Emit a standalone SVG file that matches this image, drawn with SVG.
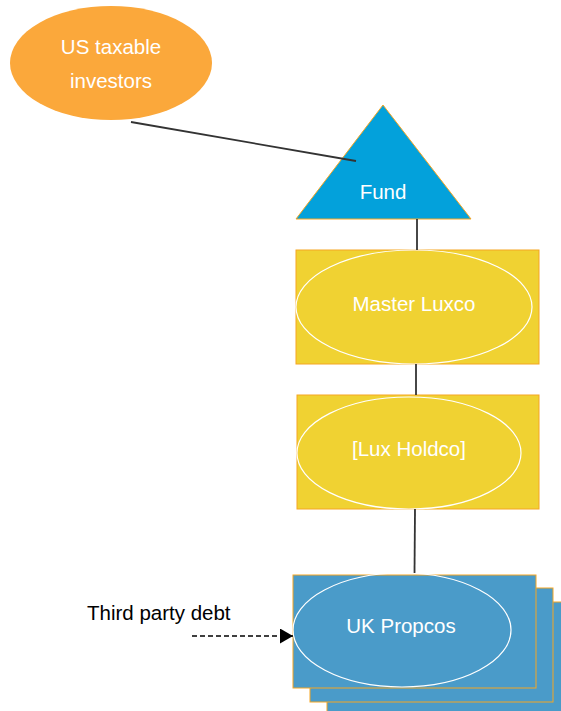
<svg xmlns="http://www.w3.org/2000/svg" width="561" height="711" viewBox="0 0 561 711">
<style>
  text { font-family: "Liberation Sans", Arial, sans-serif; font-size: 20.5px; }
  .w { fill: #ffffff; text-anchor: middle; }
  .k { fill: #000000; }
  .box { stroke: #F5A623; stroke-width: 1; }
  .inner { fill: none; stroke: #ffffff; stroke-width: 1.2; }
  .con { stroke: #333333; stroke-width: 1.8; fill: none; }
</style>
<defs>
  <marker id="arrBig" viewBox="0 0 13 15" refX="13" refY="7.5" markerWidth="13" markerHeight="15" markerUnits="userSpaceOnUse" orient="auto">
    <path d="M0,0 L13,7.5 L0,15 Z" fill="#000000"/>
  </marker>
</defs>

<g id="us-investors">
  <ellipse cx="111" cy="63" rx="101" ry="57" fill="#FBA83B"/>
  <text class="w" x="111" y="54">US taxable</text>
  <text class="w" x="111" y="88">investors</text>
</g>

<g id="fund">
  <polygon points="383,105 296,219 471,219" fill="#03A1DB" class="box"/>
  <text class="w" x="383" y="199">Fund</text>
</g>

<g id="master-luxco">
  <rect x="296" y="250" width="243" height="114" fill="#F0D232" class="box"/>
  <ellipse class="inner" cx="414" cy="307" rx="118" ry="57"/>
  <text class="w" x="414" y="311">Master Luxco</text>
</g>

<g id="lux-holdco">
  <rect x="297" y="395" width="242" height="114" fill="#F0D232" class="box"/>
  <ellipse class="inner" cx="409" cy="453" rx="112" ry="56"/>
  <text class="w" x="409" y="456">[Lux Holdco]</text>
</g>

<g id="uk-propcos">
  <rect x="327" y="602" width="250" height="120" fill="#4A9BC9" class="box"/>
  <rect x="310" y="588" width="243" height="114" fill="#4A9BC9" class="box"/>
  <rect x="293" y="575" width="243" height="113" fill="#4A9BC9" class="box"/>
  <ellipse class="inner" cx="402" cy="630" rx="109" ry="57"/>
  <text class="w" x="401" y="633">UK Propcos</text>
</g>

<g id="third-party-debt">
  <text class="k" x="87" y="620">Third party debt</text>
</g>

<g id="connectors">
  <line class="con" x1="131" y1="122" x2="356" y2="161"/>
  <line class="con" x1="417" y1="219" x2="417" y2="250"/>
  <line class="con" x1="416" y1="364" x2="416" y2="395"/>
  <line class="con" x1="415" y1="509" x2="414.5" y2="573"/>
  <line x1="192" y1="636" x2="293" y2="636" stroke="#000000" stroke-width="1.3" stroke-dasharray="5,3" marker-end="url(#arrBig)"/>
</g>
</svg>
